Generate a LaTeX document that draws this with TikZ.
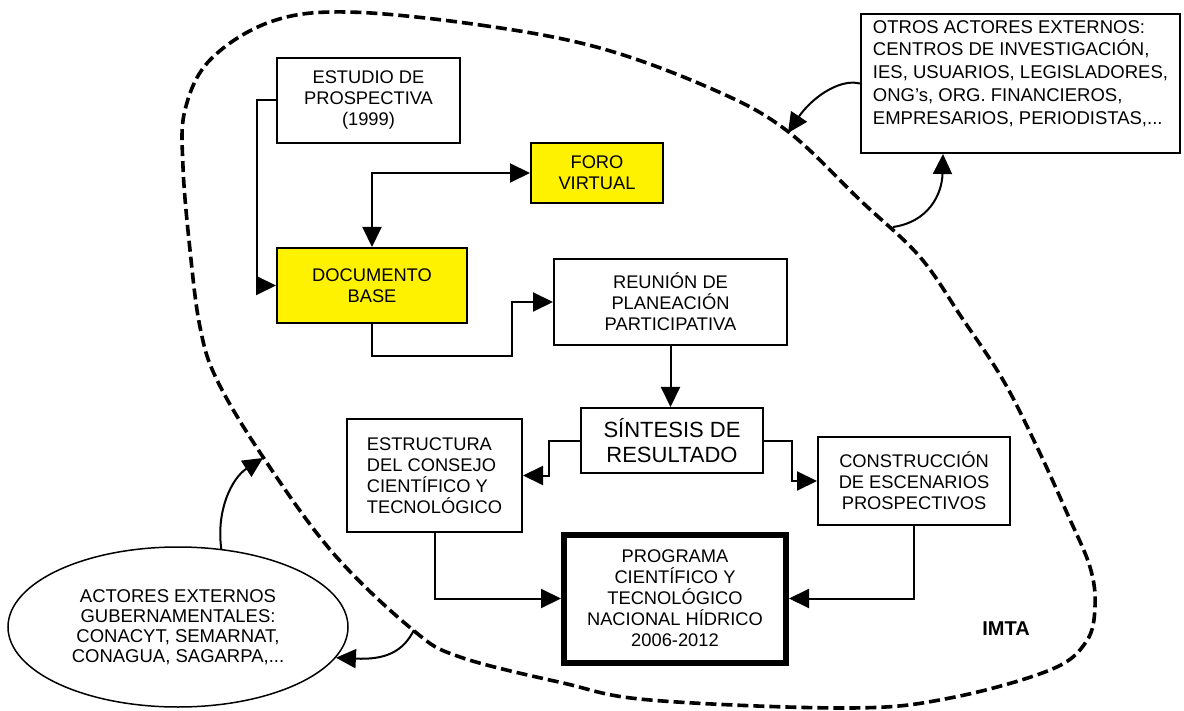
\documentclass[tikz,border=0pt]{standalone}
\usepackage{fontspec}
\setmainfont{Liberation Sans}
\usetikzlibrary{calc}
\usetikzlibrary{arrows.meta}
\usetikzlibrary{shapes.geometric}

\begin{document}
\begin{tikzpicture}[x=1pt,y=-1pt,
  >={Triangle[length=20pt,width=19pt]},
  caja/.style={draw, line width=2pt, align=center, inner sep=0pt, font=\fontsize{18.3}{21}\selectfont},
  amarilla/.style={caja, fill=yellow},
  linea/.style={line width=2pt}]
\useasboundingbox (0,0) rectangle (1184,711);
\draw[line width=3.6pt, dash pattern=on 11pt off 5pt] plot[smooth cycle, tension=0.6] coordinates {
 (347,12) (480,25) (600,48) (712,89) (786,130) (861,201) (920,257) (962,318)
 (1003,380) (1037,447) (1067,513) (1090,567) (1095,607) (1086,642) (1050,670)
 (950,698) (850,708) (650,700) (563,683) (460,657) (413,630) (333,553) (263,457)
 (217,380) (200,327) (190,250) (183,167) (185,110) (210,60) (270,22)};

\node[caja, minimum width=183, minimum height=85] (estudio) at (368.5,100.5) {ESTUDIO DE\\PROSPECTIVA\\(1999)};
\node[amarilla, minimum width=132, minimum height=60] (foro) at (597,173) {FORO\\VIRTUAL};
\node[amarilla, minimum width=190, minimum height=75] (doc) at (372,285.5) {DOCUMENTO\\BASE};
\node[caja, minimum width=233, minimum height=86] (reunion) at (670.5,302) {REUNI\'ON DE\\PLANEACI\'ON\\PARTICIPATIVA};
\node[caja, minimum width=182, minimum height=65, font=\fontsize{22}{25}\selectfont] (sintesis) at (672,440.5) {S\'INTESIS DE\\RESULTADO};
\node[caja, align=left, minimum width=175, minimum height=113] (estructura) at (434.5,475.5) {ESTRUCTURA\\DEL CONSEJO\\CIENT\'IFICO Y\\TECNOL\'OGICO};
\node[caja, minimum width=192, minimum height=88] (construccion) at (914,481) {CONSTRUCCI\'ON\\DE ESCENARIOS\\PROSPECTIVOS};
\node[caja, line width=6pt, minimum width=222, minimum height=128] (programa) at (675,598.5) {PROGRAMA\\CIENT\'IFICO Y\\TECNOL\'OGICO\\NACIONAL H\'IDRICO\\2006-2012};
\node[caja, align=left, minimum width=319, minimum height=139, font=\fontsize{18.5}{22.7}\selectfont] (otros) at (1020.5,83.5) {OTROS ACTORES EXTERNOS:\\CENTROS DE INVESTIGACI\'ON,\\IES, USUARIOS, LEGISLADORES,\\ONG's, ORG. FINANCIEROS,\\EMPRESARIOS, PERIODISTAS,...\\ \mbox{}};
\node[ellipse, draw, line width=1.5pt, inner sep=0pt, minimum width=340, minimum height=160, align=center, font=\fontsize{18.5}{20}\selectfont] (actores) at (178,627) {ACTORES EXTERNOS\\GUBERNAMENTALES:\\CONACYT, SEMARNAT,\\CONAGUA, SAGARPA,...};
\node[font=\bfseries\fontsize{20}{24}\selectfont] (imta) at (1006,629) {IMTA};

\coordinate (codo) at (512,356);
\coordinate (bordeA) at (788,133);
\coordinate (bordeB) at (893,227);
\coordinate (bordeC) at (263,458);
\coordinate (bordeD) at (414,630);

\draw[linea, ->] (estudio.west) -- ++(-19,0) |- (doc.west);
\draw[linea, <->] (foro.west) -| (doc.north);
\draw[linea, ->] (doc.south) |- (codo) |- (reunion.west);
\draw[linea, ->] (reunion.south) -- (reunion.south |- sintesis.north);
\draw[linea, ->] (sintesis.west) -- ++(-31,0) |- (estructura.east);
\draw[linea, ->] (sintesis.east) -- ++(28,0) |- (construccion.west);
\draw[linea, ->] (estructura.south) |- (programa.west);
\draw[linea, ->] (construccion.south) |- (programa.east);

\draw[linea, ->] (otros.west) .. controls (838,78) and (810,100) .. (bordeA);
\draw[linea, ->] (bordeB) .. controls (928,222) and (942,195) .. ($(otros.south west)+(83,0)$);
\draw[linea, ->] (actores.61) .. controls (216,510) and (232,478) .. (bordeC);
\draw[linea, ->] (bordeD) .. controls (403,652) and (385,660) .. (actores.-11);
\end{tikzpicture}
\end{document}
